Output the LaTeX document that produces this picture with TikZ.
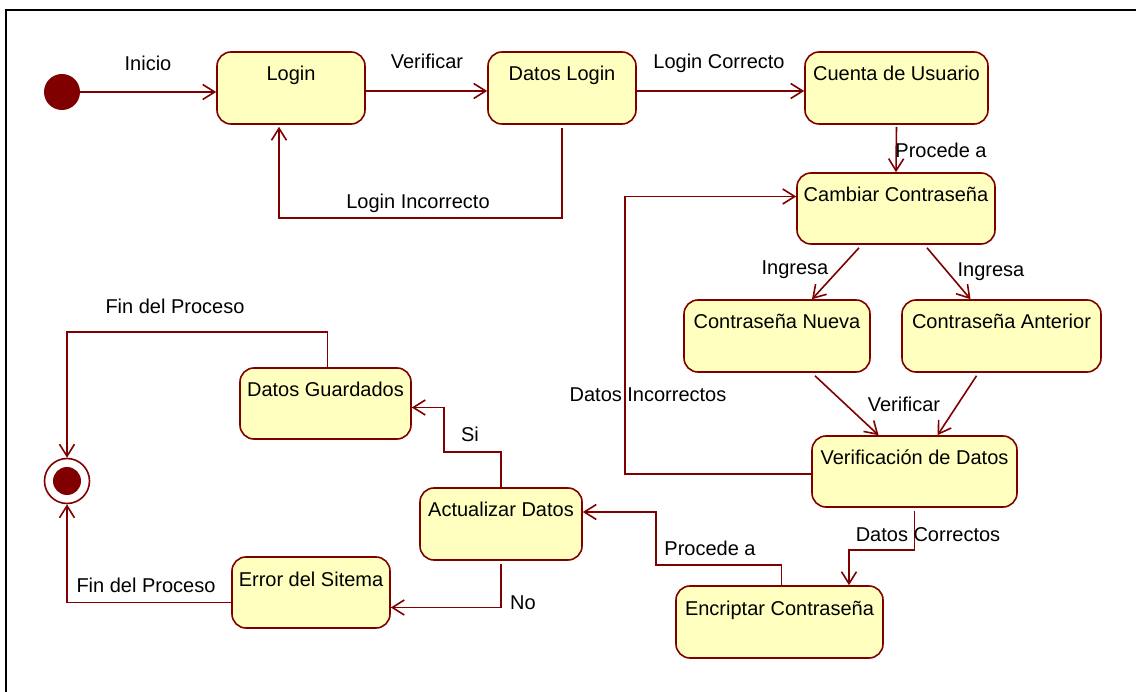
\documentclass[tikz,border=0pt]{standalone}
\usepackage{fontspec}
\setmainfont{Liberation Sans}
\usetikzlibrary{arrows.meta}
\definecolor{maroonc}{RGB}{128,0,0}
\definecolor{statefill}{RGB}{255,255,192}
\begin{document}
\begin{tikzpicture}[x=1pt,y=-1pt,
  every node/.style={font=\fontsize{20}{22}\selectfont, text=black},
  statebox/.style={draw=maroonc, fill=statefill, line width=1.6pt, rounded corners=14pt, inner sep=0pt},
  txt/.style={inner sep=0pt, anchor=base},
  conn/.style={draw=maroonc, line width=1.6pt, -{Straight Barb[length=12pt,width=15pt]}},
]
\useasboundingbox (0,0) rectangle (1136,692);
\fill[white] (0,0) rectangle (1136,692);
\draw[line width=2pt, line cap=rect] (6,692) -- (6,10) -- (1136,10);

% initial and final states
\node[circle, fill=maroonc, minimum size=36pt, inner sep=0pt] (start) at (62,92) {};
\node[circle, draw=maroonc, fill=white, line width=1.6pt, minimum size=45pt, inner sep=0pt] (end) at (67,481) {};
\node[circle, fill=maroonc, minimum size=28pt, inner sep=0pt] (endin) at (end.center) {};

% states
\node[statebox, minimum width=148pt, minimum height=72pt] (login) at (291,88) {};
\node[txt] (loginT) at (291,81) {Login};
\node[statebox, minimum width=148pt, minimum height=72pt] (datos) at (562,88) {};
\node[txt] (datosT) at (562,81) {Datos Login};
\node[statebox, minimum width=183pt, minimum height=72pt] (cuenta) at (896.5,88) {};
\node[txt] (cuentaT) at (896.5,81) {Cuenta de Usuario};
\node[statebox, minimum width=198pt, minimum height=71pt] (cambiar) at (896,208.5) {};
\node[txt] (cambiarT) at (896,202) {Cambiar Contraseña};
\node[statebox, minimum width=186pt, minimum height=72pt] (nueva) at (777,336) {};
\node[txt] (nuevaT) at (777,329) {Contraseña Nueva};
\node[statebox, minimum width=199pt, minimum height=72pt] (anterior) at (1001.5,336) {};
\node[txt] (anteriorT) at (1001.5,329) {Contraseña Anterior};
\node[statebox, minimum width=205pt, minimum height=71pt] (verif) at (914.5,471.5) {};
\node[txt] (verifT) at (914.5,465) {Verificación de Datos};
\node[statebox, minimum width=207pt, minimum height=72pt] (encrip) at (779.5,622) {};
\node[txt] (encripT) at (779.5,615) {Encriptar Contraseña};
\node[statebox, minimum width=162pt, minimum height=72pt] (act) at (501,524) {};
\node[txt] (actT) at (501,517) {Actualizar Datos};
\node[statebox, minimum width=171pt, minimum height=71pt] (guard) at (325.5,403.5) {};
\node[txt] (guardT) at (325.5,397) {Datos Guardados};
\node[statebox, minimum width=158pt, minimum height=71pt] (err) at (311,592.5) {};
\node[txt] (errT) at (311,586) {Error del Sitema};

% helper coordinates
\coordinate (li) at (279,218);
\coordinate (di) at (625,474);
\coordinate (dc) at (849,550);
\coordinate (pa) at (656,565);
\coordinate (si) at (444,452);
\coordinate (fp) at (0,332);

% connectors
\draw[conn] (start) -- (start -| login.west);
\draw[conn] ([yshift=-3pt]login.east) -- ([yshift=-3pt]datos.west);
\draw[conn] ([yshift=-3pt]datos.east) -- ([yshift=-3pt]cuenta.west);
\draw[conn] ([yshift=-3pt]datos.south) |- (li) -- ([yshift=-2pt]li |- login.south);
\draw[conn] ([yshift=-2pt]cuenta.south) -- (cambiar.north);
\draw[conn] ([xshift=-37pt,yshift=-3pt]cambiar.south) -- ([xshift=35pt]nueva.north);
\draw[conn] ([xshift=31pt,yshift=-3pt]cambiar.south) -- ([xshift=-31pt]anterior.north);
\draw[conn] ([xshift=38pt,yshift=-3pt]nueva.south) -- ([xshift=-36pt]verif.north);
\draw[conn] ([xshift=-25pt,yshift=-3pt]anterior.south) -- ([xshift=23pt]verif.north);
\draw[conn] (verif.west |- di) -- (di) |- ([yshift=12pt]cambiar.west);
\draw[conn] ([yshift=-3pt]verif.south) |- (dc) -- (dc |- encrip.north);
\draw[conn] ([xshift=2pt]encrip.north) |- (pa) |- ([yshift=12pt]act.east);
\draw[conn] (act.north) |- (si) |- ([yshift=-4pt]guard.east);
\draw[conn] ([yshift=-3pt]act.south) |- ([yshift=-15pt]err.east);
\draw[conn] ([xshift=2pt]guard.north) |- (end.north |- fp) -- (end.north);
\draw[conn] ([yshift=-10pt]err.west) -| (end.south);

% connector labels
\node[txt] (lInicio) at (148,71) {Inicio};
\node[txt] (lVer1) at (427,69) {Verificar};
\node[txt] (lLC) at (719,69) {Login Correcto};
\node[txt] (lLI) at (418,209) {Login Incorrecto};
\node[txt] (lPA1) at (941,158) {Procede a};
\node[txt] (lIng1) at (795,275) {Ingresa};
\node[txt] (lIng2) at (991,277) {Ingresa};
\node[txt] (lVer2) at (904,412) {Verificar};
\node[txt] (lDI) at (648,402) {Datos Incorrectos};
\node[txt] (lDC) at (928,542) {Datos Correctos};
\node[txt] (lPA2) at (710,555) {Procede a};
\node[txt] (lSi) at (470,442) {Si};
\node[txt] (lNo) at (523,609) {No};
\node[txt] (lFP1) at (175,314) {Fin del Proceso};
\node[txt] (lFP2) at (146,592) {Fin del Proceso};
\end{tikzpicture}
\end{document}
